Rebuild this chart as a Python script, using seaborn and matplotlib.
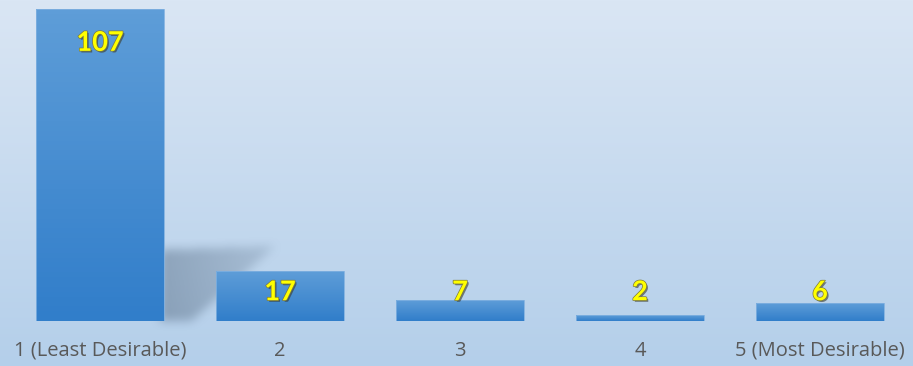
import numpy as np
import pandas as pd
import matplotlib
matplotlib.use("Agg")
import matplotlib.pyplot as plt
import matplotlib.patheffects as pe
from matplotlib.path import Path
import seaborn as sns

# Survey ratings and the number of responses for each
ratings = ["1 (Least Desirable)", "2", "3", "4", "5 (Most Desirable)"]
counts = [107, 17, 7, 2, 6]

df = pd.DataFrame({"rating": ratings, "count": counts})

sns.set_theme(style="white")
plt.rcParams["font.family"] = ["Lato", "DejaVu Sans"]

W, H, DPI = 913, 366, 100
fig = plt.figure(figsize=(W / DPI, H / DPI), dpi=DPI)

# Soft vertical gradient backdrop
bg = fig.add_axes([0, 0, 1, 1], zorder=0)
bg.set_axis_off()
top_c = np.array([0xda, 0xe6, 0xf4]) / 255
bot_c = np.array([0xb4, 0xcf, 0xea]) / 255
t = np.linspace(0, 1, H)[:, None]
grad = (1 - t) * top_c + t * bot_c
bg.imshow(np.repeat(grad[:, None, :], 2, axis=1), aspect="auto",
          extent=[0, W, 0, H], origin="upper")
bg.set_xlim(0, W)
bg.set_ylim(0, H)

ax = fig.add_axes([10 / W, (H - 320.7) / H, 900 / W, 320.7 / H], zorder=2)
ax.patch.set_alpha(0)

sns.barplot(data=df, x="rating", y="count", ax=ax, color="#3f87cf",
            width=0.711, saturation=1, edgecolor="#7fb0e0", linewidth=0.6)
ax.set_xlim(-0.5, len(ratings) - 0.5)
ax.set_ylim(0, 110.1)
ax.set_xlabel("")
ax.set_ylabel("")
ax.set_yticks([])
sns.despine(ax=ax, left=True, bottom=True)
ax.tick_params(axis="x", length=0, pad=14.5, labelsize=14.5, labelcolor="#595959")
for lbl in ax.get_xticklabels():
    lbl.set_fontfamily(["Open Sans", "DejaVu Sans"])

fig.canvas.draw()

# Vertical gradient fill inside each bar
bar_top = np.array([0x5e, 0x9d, 0xd8]) / 255
bar_bot = np.array([0x31, 0x7e, 0xca]) / 255
g = np.linspace(0, 1, 64)[:, None]
bar_grad = ((1 - g) * bar_top + g * bar_bot)[:, None, :]
for p in ax.patches:
    x0, w, h = p.get_x(), p.get_width(), p.get_height()
    im = ax.imshow(bar_grad, aspect="auto", extent=[x0, x0 + w, 0, h],
                   origin="upper", zorder=p.get_zorder() + 0.1)
    im.set_clip_path(p)
    p.set_zorder(p.get_zorder() + 0.2)
    p.set_facecolor("none")
ax.set_xlim(-0.5, len(ratings) - 0.5)
ax.set_ylim(0, 110.1)

# Soft cast shadow to the right of the tallest bar
fig.canvas.draw()
first = ax.patches[0].get_window_extent()
bx, by = first.x1, first.y0
poly = Path([(bx - 4, by), (bx - 4, by + 71), (bx + 112, by + 75), (bx + 28, by)])
yy, xx = np.mgrid[0:H, 0:W]
pts = np.column_stack([xx.ravel() + 0.5, (H - yy.ravel() - 0.5)])
mask = poly.contains_points(pts).reshape(H, W).astype(float)
k = 11
ker = np.ones(k) / k
for _ in range(2):
    mask = np.apply_along_axis(lambda r: np.convolve(r, ker, mode="same"), 1, mask)
    mask = np.apply_along_axis(lambda c: np.convolve(c, ker, mode="same"), 0, mask)
dist = np.clip(((xx - bx) + ((H - yy) - by) * 0.2) / 150.0, 0, 1)
alpha = mask * 0.62 * (1 - 0.7 * dist)
shadow = np.zeros((H, W, 4))
shadow[..., :3] = np.array([0x6c, 0x82, 0x9a]) / 255
shadow[..., 3] = alpha
bg.imshow(shadow, extent=[0, W, 0, H], origin="upper", aspect="auto", zorder=1)
bg.set_xlim(0, W)
bg.set_ylim(0, H)

# Value labels in bold yellow with a dark halo
effects = [pe.withSimplePatchShadow(offset=(1.2, -1.2), shadow_rgbFace="#3a3a2a", alpha=0.6),
           pe.Stroke(linewidth=1.0, foreground="#7a7840"), pe.Normal()]
for i, v in enumerate(counts):
    ax.text(i, max(v - 11.6, 9.8), str(v), ha="center", va="center",
            color="#ffff00", fontsize=19.5, fontweight="bold",
            path_effects=effects, zorder=10)

fig.savefig("out.png", dpi=DPI)
